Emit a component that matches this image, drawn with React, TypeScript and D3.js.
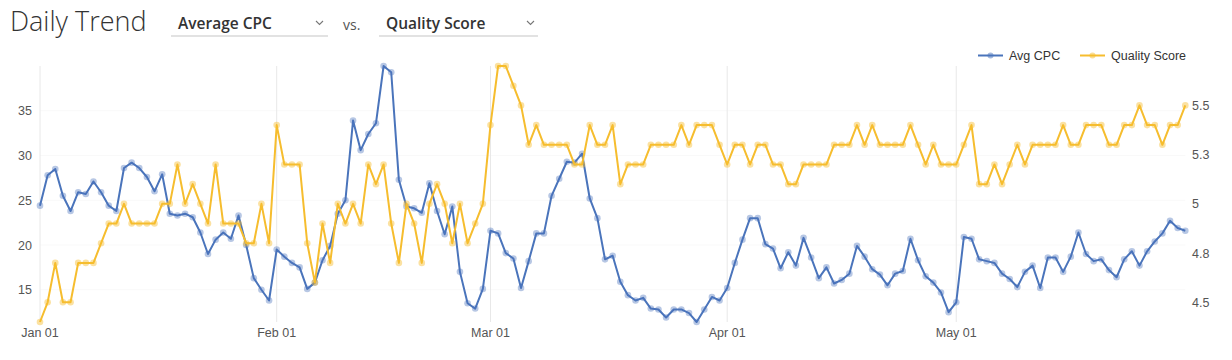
import React from "react";
import * as d3 from "d3";

const startDate = "2019-01-01";
const seriesNames = ["Avg CPC", "Quality Score"];
const monthTickLabels = ["Jan 01", "Feb 01", "Mar 01", "Apr 01", "May 01"];
const leftTicks = [15, 20, 25, 30, 35];
const rightTicks = [4.5, 4.75, 5, 5.25, 5.5];

const cpc = [
  24.4, 27.8, 28.5, 25.5, 23.8, 25.9, 25.7, 27.1, 25.9, 24.4,
  23.8, 28.6, 29.2, 28.6, 27.6, 26.0, 27.9, 23.5, 23.3, 23.5,
  23.1, 21.4, 19.0, 20.6, 21.4, 20.7, 23.3, 20.0, 16.3, 15.0,
  13.8, 19.5, 18.7, 18.0, 17.5, 15.1, 15.8, 18.3, 19.9, 23.5,
  25.0, 33.9, 30.6, 32.4, 33.6, 40.0, 39.3, 27.3, 24.3, 24.1,
  23.6, 26.9, 23.8, 21.2, 24.3, 17.0, 13.5, 12.9, 15.1, 21.6,
  21.3, 19.1, 18.5, 15.2, 18.2, 21.3, 21.3, 25.5, 27.4, 29.3,
  29.2, 30.2, 25.2, 23.0, 18.4, 18.8, 15.9, 14.4, 13.8, 14.1,
  12.9, 12.8, 11.9, 12.8, 12.8, 12.4, 11.4, 12.8, 14.2, 13.8,
  15.2, 18.0, 20.6, 23.0, 23.0, 20.1, 19.6, 17.4, 19.2, 17.7,
  20.8, 18.6, 16.3, 17.5, 15.7, 16.1, 16.8, 19.9, 18.7, 17.3,
  16.7, 15.5, 16.8, 17.1, 20.7, 18.3, 16.5, 15.8, 14.7, 12.5,
  13.6, 20.9, 20.7, 18.4, 18.2, 18.0, 16.8, 16.2, 15.3, 17.0,
  17.7, 15.2, 18.6, 18.6, 17.0, 18.7, 21.4, 19.0, 18.2, 18.4,
  17.2, 16.4, 18.4, 19.3, 17.7, 19.3, 20.4, 21.3, 22.7, 21.9,
  21.6,
];

const quality = [
  4.4, 4.5, 4.7, 4.5, 4.5, 4.7, 4.7, 4.7, 4.8, 4.9,
  4.9, 5.0, 4.9, 4.9, 4.9, 4.9, 5.0, 5.0, 5.2, 5.0,
  5.1, 5.0, 4.9, 5.2, 4.9, 4.9, 4.9, 4.8, 4.8, 5.0,
  4.8, 5.4, 5.2, 5.2, 5.2, 4.8, 4.6, 4.9, 4.7, 5.0,
  4.9, 5.0, 4.9, 5.2, 5.1, 5.2, 4.9, 4.7, 5.0, 4.9,
  4.7, 5.0, 5.1, 5.0, 4.8, 5.0, 4.8, 4.9, 5.0, 5.4,
  5.7, 5.7, 5.6, 5.5, 5.3, 5.4, 5.3, 5.3, 5.3, 5.3,
  5.2, 5.2, 5.4, 5.3, 5.3, 5.4, 5.1, 5.2, 5.2, 5.2,
  5.3, 5.3, 5.3, 5.3, 5.4, 5.3, 5.4, 5.4, 5.4, 5.3,
  5.2, 5.3, 5.3, 5.2, 5.3, 5.3, 5.2, 5.2, 5.1, 5.1,
  5.2, 5.2, 5.2, 5.2, 5.3, 5.3, 5.3, 5.4, 5.3, 5.4,
  5.3, 5.3, 5.3, 5.3, 5.4, 5.3, 5.2, 5.3, 5.2, 5.2,
  5.2, 5.3, 5.4, 5.1, 5.1, 5.2, 5.1, 5.2, 5.3, 5.2,
  5.3, 5.3, 5.3, 5.3, 5.4, 5.3, 5.3, 5.4, 5.4, 5.4,
  5.3, 5.3, 5.4, 5.4, 5.5, 5.4, 5.4, 5.3, 5.4, 5.4,
  5.5,
];

const BLUE = "#4a74bb";
const YELLOW = "#f6bd2e";

export default function App() {
  const W = 1232;
  const H = 360;
  const left = 40;
  const right = 1185.3;
  const top = 66;
  const bottom = 322;

  const start = d3.timeParse("%Y-%m-%d")(startDate) as Date;
  const dates = cpc.map((_, i) => d3.timeDay.offset(start, i));

  const x = d3
    .scaleTime()
    .domain([dates[0], dates[dates.length - 1]])
    .range([left, right]);
  const yL = d3
    .scaleLinear()
    .domain(d3.extent(cpc) as [number, number])
    .range([bottom, top]);
  const yR = d3
    .scaleLinear()
    .domain(d3.extent(quality) as [number, number])
    .range([bottom, top]);

  const monthTicks = d3.timeMonth.range(dates[0], dates[dates.length - 1]);
  const fmtR = d3.format(".2~");

  const lineL = d3
    .line<number>()
    .x((_, i) => x(dates[i]))
    .y((d) => yL(d));
  const lineR = d3
    .line<number>()
    .x((_, i) => x(dates[i]))
    .y((d) => yR(d));

  const axisFont = "'Liberation Sans', Arial, sans-serif";
  const uiFont = "'Open Sans', sans-serif";

  const chevron = (cx: number, cy: number) =>
    `M${cx - 3.5},${cy - 2} L${cx},${cy + 1.5} L${cx + 3.5},${cy - 2}`;

  return (
    <svg
      width={W}
      height={H}
      style={{ position: "absolute", left: 0, top: 0, display: "block", background: "#fff" }}
    >
      {/* header */}
      <text x={10} y={31} fontFamily={uiFont} fontWeight={300} fontSize={27} fill="#333">
        Daily Trend
      </text>
      <text x={178} y={29} fontFamily={uiFont} fontWeight={600} fontSize={15.5} fill="#333">
        Average CPC
      </text>
      <path d={chevron(319.5, 23)} fill="none" stroke="#777" strokeWidth={1.1} />
      <line x1={171} x2={328} y1={36} y2={36} stroke="#e2e2e2" strokeWidth={2} />
      <text x={343} y={30} fontFamily={uiFont} fontSize={14} fill="#555">
        vs.
      </text>
      <text x={386} y={29} fontFamily={uiFont} fontWeight={600} fontSize={15.5} fill="#333">
        Quality Score
      </text>
      <path d={chevron(530.5, 23)} fill="none" stroke="#777" strokeWidth={1.1} />
      <line x1={379} x2={538} y1={36} y2={36} stroke="#e2e2e2" strokeWidth={2} />

      {/* legend */}
      {[
        { name: seriesNames[0], color: BLUE, x0: 978 },
        { name: seriesNames[1], color: YELLOW, x0: 1080 },
      ].map((l) => (
        <g key={l.name}>
          <line x1={l.x0} x2={l.x0 + 25} y1={55.5} y2={55.5} stroke={l.color} strokeWidth={2} />
          <circle cx={l.x0 + 12.5} cy={55.5} r={3} fill={l.color} fillOpacity={0.5} />
          <text x={l.x0 + 31} y={60} fontFamily={axisFont} fontSize={12.5} fill="#333">
            {l.name}
          </text>
        </g>
      ))}

      {/* horizontal faint grid */}
      {leftTicks.map((t) => (
        <line key={"h" + t} x1={left} x2={right} y1={yL(t)} y2={yL(t)} stroke="#f9f9f9" strokeWidth={1} />
      ))}

      {/* vertical grid */}
      {monthTicks.map((d) => (
        <line
          key={"v" + d.getTime()}
          x1={x(d)}
          x2={x(d)}
          y1={top}
          y2={bottom}
          stroke="#e8e8e8"
          strokeWidth={1}
        />
      ))}

      {/* x labels */}
      {monthTicks.map((d, i) => (
        <text
          key={"xl" + i}
          x={x(d)}
          y={337}
          textAnchor="middle"
          fontFamily={axisFont}
          fontSize={12.5}
          fill="#555"
        >
          {monthTickLabels[i]}
        </text>
      ))}

      {/* left axis labels */}
      {leftTicks.map((t) => (
        <text
          key={"yl" + t}
          x={32}
          y={yL(t) + 4.5}
          textAnchor="end"
          fontFamily={axisFont}
          fontSize={12.5}
          fill="#555"
        >
          {t}
        </text>
      ))}

      {/* right axis labels */}
      {rightTicks.map((t) => (
        <text
          key={"yr" + t}
          x={1192}
          y={yR(t) + 4.5}
          textAnchor="start"
          fontFamily={axisFont}
          fontSize={12.5}
          fill="#555"
        >
          {fmtR(t)}
        </text>
      ))}

      {/* CPC series */}
      <path d={lineL(cpc) || ""} fill="none" stroke={BLUE} strokeWidth={2} strokeLinejoin="round" />
      {cpc.map((v, i) => (
        <circle key={"c" + i} cx={x(dates[i])} cy={yL(v)} r={3.3} fill={BLUE} fillOpacity={0.4} />
      ))}

      {/* Quality series */}
      <path d={lineR(quality) || ""} fill="none" stroke={YELLOW} strokeWidth={2} strokeLinejoin="round" />
      {quality.map((v, i) => (
        <circle key={"q" + i} cx={x(dates[i])} cy={yR(v)} r={3.3} fill={YELLOW} fillOpacity={0.45} />
      ))}
    </svg>
  );
}
